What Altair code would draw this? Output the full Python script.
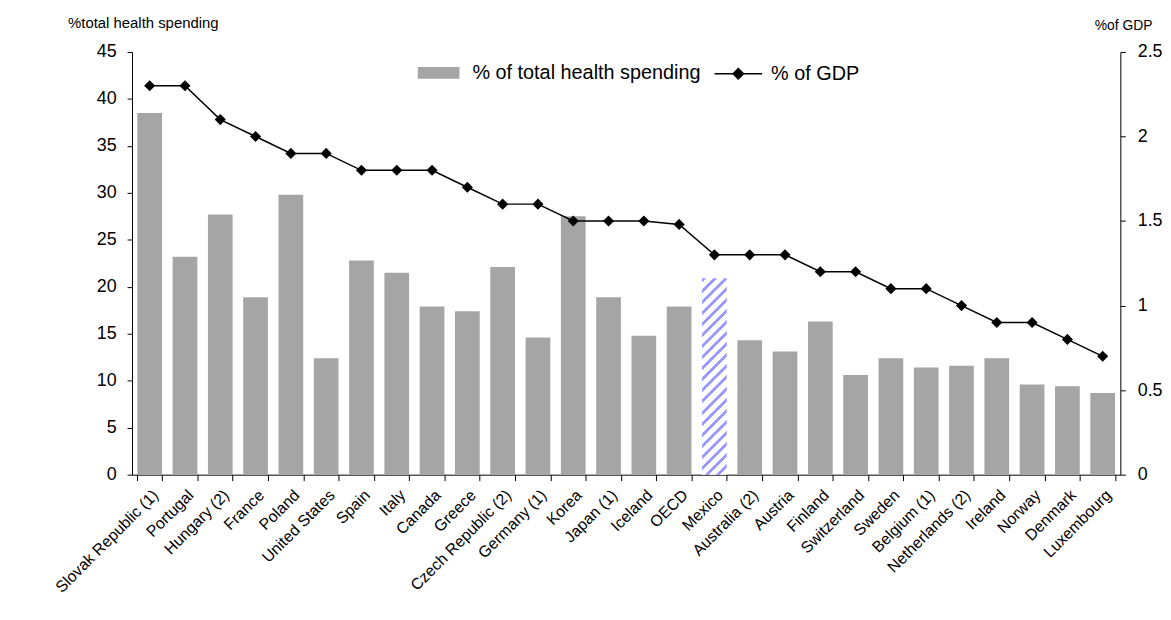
import altair as alt
import pandas as pd

countries = ["Slovak Republic (1)", "Portugal", "Hungary (2)", "France", "Poland",
             "United States", "Spain", "Italy", "Canada", "Greece",
             "Czech Republic (2)", "Germany (1)", "Korea", "Japan (1)", "Iceland",
             "OECD", "Mexico", "Australia (2)", "Austria", "Finland",
             "Switzerland", "Sweden", "Belgium (1)", "Netherlands (2)", "Ireland",
             "Norway", "Denmark", "Luxembourg"]
health = [38.5, 23.2, 27.7, 18.9, 29.8, 12.4, 22.8, 21.5, 17.9, 17.4,
          22.1, 14.6, 27.5, 18.9, 14.8, 17.9, 20.9, 14.3, 13.1, 16.3,
          10.6, 12.4, 11.4, 11.6, 12.4, 9.6, 9.4, 8.7]
gdp = [2.3, 2.3, 2.1, 2.0, 1.9, 1.9, 1.8, 1.8, 1.8, 1.7,
       1.6, 1.6, 1.5, 1.5, 1.5, 1.48, 1.3, 1.3, 1.3, 1.2,
       1.2, 1.1, 1.1, 1.0, 0.9, 0.9, 0.8, 0.7]
hatched = ["Mexico"]
series_names = ["% of total health spending", "% of GDP"]
left_ticks = [0, 5, 10, 15, 20, 25, 30, 35, 40, 45]
right_ticks = [0, 0.5, 1, 1.5, 2, 2.5]

df = pd.DataFrame({"country": countries, "health": health, "gdp": gdp})
df["s_bar"] = series_names[0]
df["s_line"] = series_names[1]
df["hatch"] = df["country"].isin(hatched)

FONT = "Liberation Sans"
W, H = 996, 426
P_IN, P_OUT = 0.3, 0.15
BAR_COLOR = "#a5a5a5"
STRIPE = "#9a9aff"

# stripe gradient for the hatched bar (45-degree stripes)
n = len(countries)
step = W / (n - P_IN + 2 * P_OUT)
bw = step * (1 - P_IN)
bh = df.loc[df.hatch, "health"].max() / 45 * H
s = (bw + bh) / (bw ** 2 + bh ** 2)
period = 11.0
nst = max(1, int(round((bw + bh) / period)))
stops = []
for i in range(nst):
    a, b, c = i / nst, (i + 0.36) / nst, (i + 1) / nst
    stops += [alt.GradientStop(offset=a, color=STRIPE), alt.GradientStop(offset=b, color=STRIPE),
              alt.GradientStop(offset=b, color="white"), alt.GradientStop(offset=c, color="white")]
grad = alt.LinearGradient(gradient="linear", stops=stops, x1=0, y1=0, x2=bw * s, y2=bh * s)

x = alt.X("country:N", sort=countries,
          scale=alt.Scale(paddingInner=P_IN, paddingOuter=P_OUT),
          axis=alt.Axis(title=None, labelAngle=-45, labelFont=FONT, labelFontSize=16,
                        labelColor="black", tickBand="extent", tickSize=6,
                        domainColor="black", tickColor="black", labelPadding=6,
                        labelLimit=300))

left_scale = alt.Scale(domain=[0, 45], nice=False)
right_scale = alt.Scale(domain=[0, 2.5], nice=False)

y_left = alt.Y("health:Q", scale=left_scale,
               axis=alt.Axis(values=left_ticks, title="%total health spending", titleAngle=0,
                             titleAlign="left", titleBaseline="bottom", titleX=-65, titleY=-22,
                             titleFont=FONT, titleFontSize=15, titleFontWeight="normal",
                             titleColor="black", labelFont=FONT, labelFontSize=18,
                             labelColor="black", tickSize=5, labelPadding=11, grid=False,
                             domainColor="black", tickColor="black"))

y_right = alt.Y("gdp:Q", scale=right_scale,
                axis=alt.Axis(orient="right", values=right_ticks, labelExpr="'' + datum.value",
                              title="%of GDP", titleAngle=0, titleAlign="right",
                              titleBaseline="bottom", titleX=32, titleY=-20,
                              titleFont=FONT, titleFontSize=14, titleFontWeight="normal",
                              titleColor="black", labelFont=FONT, labelFontSize=18,
                              labelColor="black", tickSize=5, labelPadding=12, grid=False,
                              domainColor="black", tickColor="black"))

base = alt.Chart(df).encode(x=x)

bars = base.transform_filter("!datum.hatch").mark_bar().encode(
    y=y_left,
    fill=alt.Fill("s_bar:N",
                  scale=alt.Scale(domain=[series_names[0]], range=[BAR_COLOR]),
                  legend=alt.Legend(title=None, orient="none", legendX=288, legendY=0,
                                    symbolType="M-1,-0.28L1,-0.28L1,0.28L-1,0.28Z",
                                    symbolSize=1764, symbolStrokeWidth=0,
                                    labelFont=FONT, labelFontSize=20, labelColor="black",
                                    labelOffset=13, labelLimit=400, padding=0)),
)

hbar = base.transform_filter("datum.hatch").mark_bar(color=grad).encode(
    y=alt.Y("health:Q", scale=left_scale, axis=None))

line = base.mark_line(strokeWidth=1.5).encode(
    y=y_right,
    stroke=alt.Stroke("s_line:N",
                      scale=alt.Scale(domain=[series_names[1]], range=["black"]),
                      legend=alt.Legend(title=None, orient="none", legendX=586, legendY=-3,
                                        symbolType="M-1,0L1,0M0,-0.22L0.22,0L0,0.22L-0.22,0Z",
                                        symbolSize=2304, symbolStrokeWidth=1.5,
                                        symbolFillColor="black", symbolStrokeColor="black",
                                        labelFont=FONT, labelFontSize=20, labelColor="black",
                                        labelOffset=8, labelLimit=400, padding=0)),
)
pts = base.mark_point(shape="diamond", filled=True, size=125, color="black", opacity=1).encode(
    y=alt.Y("gdp:Q", scale=right_scale, axis=None))

chart = alt.layer(bars, hbar, line, pts).resolve_scale(y="independent").properties(
    width=W, height=H,
    padding={"left": 44, "top": 5, "right": 0, "bottom": 0},
    background="white",
).configure_view(stroke=None)

chart.save("out.html", embed_options={"renderer": "svg", "actions": False})
